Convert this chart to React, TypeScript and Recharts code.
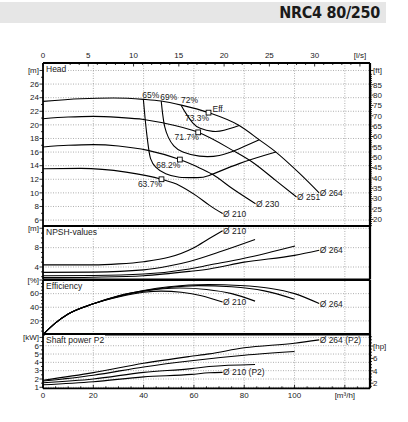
import { LineChart, Line, XAxis, YAxis, ReferenceLine } from "recharts";

// Flow in m³/h
const HEAD_264 = [[0, 23.45], [15, 23.85], [28, 23.95], [40, 23.75], [47, 23.5], [55, 22.9], [65.8, 21.8], [78, 19.9], [86, 17.8], [92.6, 16], [101.9, 12.9], [109.8, 10.0]];
const HEAD_251 = [[0, 20.9], [10, 21.15], [20, 21.25], [30, 21.1], [40, 20.8], [47.6, 20.3], [61.7, 18.9], [75.4, 16.25], [83.3, 14.5], [92.6, 11.8], [100.8, 9.4]];
const HEAD_230 = [[0, 16.75], [10, 17.0], [20, 17.1], [30, 16.9], [41.7, 16.25], [54.4, 14.9], [60.9, 13.9], [67.5, 12.7], [75.4, 10.6], [84.5, 8.4]];
const HEAD_210 = [[0, 13.55], [15, 13.6], [33, 13.05], [47.1, 12.0], [54.2, 11.1], [60.9, 9.6], [66.1, 8.2], [71.4, 6.95]];

// iso-efficiency lines (path order)
const ISO_65 = [[39.9, 23.75], [40.6, 20.9], [41.3, 18.5], [42, 16.5], [42.8, 15.0], [44.8, 13.8], [48.8, 12.8], [54.2, 12.3], [60.9, 12.24], [66.1, 12.57], [78, 14.3], [92.6, 16]];
const ISO_69 = [[47, 23.5], [47.6, 21.5], [48.4, 19.7], [49.8, 18.2], [52, 16.9], [55.6, 16], [62.2, 15.4], [70.1, 15.5], [78, 16.5], [86, 17.8]];
const ISO_72 = [[54.9, 22.9], [56.9, 21.65], [59.5, 20.3], [62.5, 19.5], [67.5, 19.05], [72, 19.2], [78, 19.9]];

const BEP = [[65.8, 21.8], [61.7, 18.9], [54.4, 14.9], [47.1, 12.0]];
const BEP_LABELS = ["73.3%", "71.7%", "68.2%", "63.7%"];

const NPSH_210 = [[0, 4.45], [20, 4.45], [30, 4.65], [40, 5.1], [50, 6.0], [60, 8.0], [66.1, 9.9], [71.4, 11.5]];
const NPSH_230 = [[0, 2.9], [20, 2.95], [40, 3.4], [50, 4.2], [58.2, 5.15], [70, 7.1], [84.3, 9.7]];
const NPSH_251 = [[0, 2.2], [20, 2.25], [40, 2.55], [58.2, 3.6], [66.1, 4.4], [80, 5.8], [100.2, 8.35]];
const NPSH_264 = [[0, 1.8], [20, 1.9], [40, 2.2], [58.2, 3.1], [66.1, 3.6], [80, 5.0], [100, 6.4], [109.8, 7.45]];

const EFF_210 = [[0, 0], [5, 17], [10, 30], [20, 45], [30, 55], [40, 62], [47, 63.7], [55, 62], [63, 57], [71.4, 47.6]];
const EFF_230 = [[0, 0], [5, 17], [10, 30], [20, 45], [30, 56], [40, 63.5], [54.4, 68.2], [65, 66], [75, 60], [84.3, 49]];
const EFF_251 = [[0, 0], [5, 17], [10, 30], [20, 45], [30, 56.5], [40, 64], [50, 69], [61.7, 71.7], [75, 70], [88, 64], [100, 51.8]];
const EFF_264 = [[0, 0], [5, 17], [10, 30], [20, 45], [30, 56.7], [40, 64.5], [50, 70], [65.8, 73.3], [78, 72], [90, 68], [100, 60], [109.8, 45.4]];

const P2_264 = [[0, 1.85], [20, 2.76], [40, 3.89], [58.2, 4.7], [66.1, 5.02], [80, 5.75], [100, 6.3], [109.8, 6.7]];
const P2_251 = [[0, 1.75], [20, 2.45], [40, 3.45], [59, 4.2], [80, 4.85], [100, 5.3]];
const P2_230 = [[0, 1.55], [20, 2.0], [40, 2.8], [59, 3.25], [66, 3.5], [84.3, 3.75]];
const P2_210 = [[0, 1.3], [20, 1.67], [40, 2.25], [59, 2.55], [66, 2.75], [71.4, 2.8]];

const Q_DOMAIN: [number, number] = [0, 130];
const HEAD_DOMAIN: [number, number] = [5.1, 29.1];
const NPSH_DOMAIN: [number, number] = [1.42, 12.47];
const EFF_DOMAIN: [number, number] = [0, 80];
const P2_DOMAIN: [number, number] = [0.88, 7.41];

const FONT = "'Liberation Sans', Arial, sans-serif";
const FS = 8.5;
const TFS = 8;
const INK = "#222";
const M_TO_FT = 3.28084;
const KW_TO_HP = 1.341;

const range = (a: number, b: number, s: number) => {
  const r: number[] = [];
  for (let v = a; v <= b + 1e-9; v += s) r.push(+v.toFixed(4));
  return r;
};
const pts = (arr: number[][]) => arr.map(([q, v]) => ({ q, v }));
const near = (a: number, b: number) => Math.abs(a - b) < 1e-3;

// tick renderers: fmt returns the label of a major tick, null for a minor tick
type Fmt = (v: number) => string | null;

const leftTick = (fmt: Fmt) => (p: any) => {
  const s = fmt(p.payload.value);
  const len = s === null ? 2 : 3.5;
  return (
    <g>
      <line x1={p.x - len} x2={p.x} y1={p.y} y2={p.y} stroke="#000" strokeWidth={0.8} />
      {s ? (
        <text x={p.x - 4} y={p.y} dy="0.35em" textAnchor="end" fontSize={TFS} fontFamily={FONT} fill={INK}>
          {s}
        </text>
      ) : null}
    </g>
  );
};

const rightTick = (fmt: Fmt) => (p: any) => {
  const s = fmt(p.payload.value);
  const len = s === null ? 2 : 3.5;
  return (
    <g>
      <line x1={p.x} x2={p.x + len} y1={p.y} y2={p.y} stroke="#000" strokeWidth={0.8} />
      {s ? (
        <text x={p.x + 3} y={p.y} dy="0.35em" textAnchor="start" fontSize={TFS} fontFamily={FONT} fill={INK}>
          {s}
        </text>
      ) : null}
    </g>
  );
};

const topTick = (fmt: Fmt) => (p: any) => {
  const s = fmt(p.payload.value);
  const len = s === null ? 2 : 3.5;
  return (
    <g>
      <line x1={p.x} x2={p.x} y1={p.y} y2={p.y + len} stroke="#000" strokeWidth={0.8} />
      {s ? (
        <text x={p.x} y={p.y - 4.5} textAnchor="middle" fontSize={TFS} fontFamily={FONT} fill={INK}>
          {s}
        </text>
      ) : null}
    </g>
  );
};

const bottomTick = (fmt: Fmt) => (p: any) => {
  const s = fmt(p.payload.value);
  const len = s === null ? 2 : 3.5;
  return (
    <g>
      <line x1={p.x} x2={p.x} y1={p.y} y2={p.y - len} stroke="#000" strokeWidth={0.8} />
      {s ? (
        <text x={p.x} y={p.y + 10} textAnchor="middle" fontSize={TFS} fontFamily={FONT} fill={INK}>
          {s}
        </text>
      ) : null}
    </g>
  );
};

// axis tick lists
const LS_TICKS = range(0, 35, 1).map((l) => +(l * 3.6).toFixed(4));
const fmtLs: Fmt = (v) => {
  const l = Math.round(v / 3.6);
  if (l === 35) return "[l/s]";
  return l % 5 === 0 ? String(l) : null;
};
const Q_TICKS = range(0, 125, 5);
const fmtQ: Fmt = (v) => {
  if (near(v, 120)) return "[m³/h]";
  return Math.round(v) % 20 === 0 && v <= 100 ? String(Math.round(v)) : null;
};

const HEAD_TICKS = range(6, 28, 1);
const fmtHead: Fmt = (v) => (near(v, 28) ? "[m]" : Math.round(v) % 2 === 0 ? String(Math.round(v)) : null);
const FT_TICKS = [...range(17, 90, 1).map((f) => +(f / M_TO_FT).toFixed(4)), 28.0];
const fmtFt: Fmt = (v) => {
  if (near(v, 28.0)) return "[ft]";
  const f = Math.round(v * M_TO_FT);
  return f % 5 === 0 && f <= 85 ? String(f) : null;
};

const NPSH_TICKS = range(2, 12, 1);
const fmtNpsh: Fmt = (v) => (near(v, 12) ? "[m]" : near(v, 4) || near(v, 8) ? String(Math.round(v)) : null);

const EFF_TICKS = range(5, 80, 5);
const fmtEff: Fmt = (v) => (near(v, 80) ? "[%]" : Math.round(v) % 20 === 0 ? String(Math.round(v)) : null);

const P2_TICKS = range(1, 7, 0.5);
const fmtP2: Fmt = (v) => (near(v, 7) ? "[kW]" : near(v, Math.round(v)) ? String(Math.round(v)) : null);
const HP_TICKS = range(1.5, 9.5, 0.5).map((h) => +(h / KW_TO_HP).toFixed(4));
const fmtHp: Fmt = (v) => {
  const h = Math.round(v * KW_TO_HP * 2) / 2;
  if (h === 8) return "[hp]";
  return h === 2 || h === 4 || h === 6 ? String(h) : null;
};

const GRID_Q = [20, 40, 60, 80, 100, 120];
const HEAD_GRID = range(6, 28, 2);
const NPSH_GRID = [4, 8, 12];
const EFF_GRID = [20, 40, 60, 80];
const P2_GRID = [1, 2, 3, 4, 5, 6, 7];

const gridLines = (ys: number[]) => [
  ...GRID_Q.map((q) => (
    <ReferenceLine key={`gx${q}`} x={q} stroke="#8c8c8c" strokeWidth={0.7} strokeDasharray="1 1.5" />
  )),
  ...ys.map((y) => (
    <ReferenceLine key={`gy${y}`} y={y} stroke="#8c8c8c" strokeWidth={0.7} strokeDasharray="1 1.5" />
  )),
];

const frame = (d: [number, number]) => [
  <ReferenceLine key="f1" x={Q_DOMAIN[0]} stroke="#000" strokeWidth={1.8} />,
  <ReferenceLine key="f2" x={Q_DOMAIN[1]} stroke="#000" strokeWidth={2.2} />,
  <ReferenceLine key="f3" y={d[0]} stroke="#000" strokeWidth={1.8} />,
  <ReferenceLine key="f4" y={d[1]} stroke="#000" strokeWidth={1.8} />,
];

const lx = (p: any) => (p.viewBox && p.viewBox.x != null ? p.viewBox.x : p.x);
const ly = (p: any) => (p.viewBox && p.viewBox.y != null ? p.viewBox.y : p.y);

function endLabel(text: string, n: number) {
  return (p: any) =>
    p.index === n - 1 ? (
      <text x={lx(p) + 0.5} y={ly(p)} dy="0.35em" fontSize={FS} fontFamily={FONT} fill={INK}>
        {text}
      </text>
    ) : (
      <g />
    );
}

function startLabel(text: string, dx: number, dy: number) {
  return (p: any) =>
    p.index === 0 ? (
      <text x={lx(p) + dx} y={ly(p) + dy} fontSize={FS} fontFamily={FONT} fill={INK}>
        {text}
      </text>
    ) : (
      <g />
    );
}

const bepLabel = (p: any) => (
  <g>
    <text x={lx(p) + 0.5} y={ly(p) + 8} textAnchor="end" fontSize={FS} fontFamily={FONT} fill={INK}>
      {BEP_LABELS[p.index]}
    </text>
    {p.index === 0 ? (
      <text x={lx(p) + 4} y={ly(p) - 0.5} fontSize={FS} fontFamily={FONT} fill={INK}>
        Eff.
      </text>
    ) : null}
  </g>
);

const bepDot = (p: any) => (
  <rect key={`bep${p.index}`} x={p.cx - 2.4} y={p.cy - 2.4} width={4.8} height={4.8} fill="#fff" stroke="#000" strokeWidth={0.9} />
);

const curve = (data: number[][], key: string, label?: any, type: any = "monotone") => (
  <Line
    key={key}
    data={pts(data)}
    dataKey="v"
    type={type}
    stroke="#000"
    strokeWidth={1.1}
    dot={false}
    activeDot={false}
    isAnimationActive={false}
    label={label}
  />
);

const panelTitle = (text: string, top: number) => (
  <div
    style={{
      position: "absolute",
      left: 45,
      top,
      height: 10,
      lineHeight: "10px",
      fontSize: FS,
      fontFamily: FONT,
      color: INK,
      background: "#fff",
      padding: "0 1px",
    }}
  >
    {text}
  </div>
);

const MARGIN_R = { top: 0, right: 8, bottom: 0, left: 13 };
const MARGIN_NR = { top: 0, right: 38, bottom: 0, left: 13 };

export default function App() {
  return (
    <div style={{ position: "absolute", left: 0, top: 0, width: 408, height: 422, background: "#fff", overflow: "hidden" }}>
      <style>{".recharts-surface{overflow:visible}.recharts-wrapper{overflow:visible}"}</style>
      <div style={{ position: "absolute", left: 0, top: 2, width: 386, height: 21, background: "#e6e6e6" }} />
      <div
        style={{
          position: "absolute",
          right: 28,
          top: 3,
          height: 20,
          lineHeight: "20px",
          fontSize: 16,
          fontWeight: 700,
          fontFamily: "'Liberation Sans Narrow', 'DejaVu Sans Condensed', 'Liberation Sans', sans-serif",
          fontStretch: "condensed",
          color: "#1a1a1a",
          letterSpacing: -0.3,
        }}
      >
        NRC4 80/250
      </div>

      {/* Head */}
      <div style={{ position: "absolute", left: 0, top: 42.5 }}>
        <LineChart width={408} height={183.2} margin={MARGIN_R}>
          <XAxis
            type="number"
            dataKey="q"
            orientation="top"
            domain={Q_DOMAIN}
            allowDataOverflow
            ticks={LS_TICKS}
            interval={0}
            height={20}
            axisLine={false}
            tickLine={false}
            tickSize={0}
            tickMargin={0}
            tick={topTick(fmtLs)}
          />
          <YAxis type="number" domain={HEAD_DOMAIN} allowDataOverflow ticks={HEAD_TICKS} interval={0} width={30} axisLine={false} tickLine={false} tickSize={0} tickMargin={0} tick={leftTick(fmtHead)} />
          <YAxis yAxisId="r" orientation="right" type="number" domain={HEAD_DOMAIN} allowDataOverflow ticks={FT_TICKS} interval={0} width={30} axisLine={false} tickLine={false} tickSize={0} tickMargin={0} tick={rightTick(fmtFt)} />
          {gridLines(HEAD_GRID)}
          {curve(HEAD_264, "h264", endLabel("Ø 264", HEAD_264.length))}
          {curve(HEAD_251, "h251", endLabel("Ø 251", HEAD_251.length))}
          {curve(HEAD_230, "h230", endLabel("Ø 230", HEAD_230.length))}
          {curve(HEAD_210, "h210", endLabel("Ø 210", HEAD_210.length))}
          {curve(ISO_65, "i65", startLabel("65%", -1, -1.5), "natural")}
          {curve(ISO_69, "i69", startLabel("69%", -1, -1.5), "natural")}
          {curve(ISO_72, "i72", startLabel("72%", 0, -2), "natural")}
          <Line
            data={pts(BEP)}
            dataKey="v"
            stroke="none"
            strokeWidth={0}
            dot={bepDot}
            activeDot={false}
            isAnimationActive={false}
            label={bepLabel}
          />
          {frame(HEAD_DOMAIN)}
        </LineChart>
      </div>

      {/* NPSH */}
      <div style={{ position: "absolute", left: 0, top: 226 }}>
        <LineChart width={408} height={53.5} margin={MARGIN_NR}>
          <XAxis type="number" dataKey="q" domain={Q_DOMAIN} allowDataOverflow hide />
          <YAxis type="number" domain={NPSH_DOMAIN} allowDataOverflow ticks={NPSH_TICKS} interval={0} width={30} axisLine={false} tickLine={false} tickSize={0} tickMargin={0} tick={leftTick(fmtNpsh)} />
          {gridLines(NPSH_GRID)}
          {curve(NPSH_210, "n210", endLabel("Ø 210", NPSH_210.length))}
          {curve(NPSH_230, "n230")}
          {curve(NPSH_251, "n251")}
          {curve(NPSH_264, "n264", endLabel("Ø 264", NPSH_264.length))}
          {frame(NPSH_DOMAIN)}
        </LineChart>
      </div>

      {/* Efficiency */}
      <div style={{ position: "absolute", left: 0, top: 279.5 }}>
        <LineChart width={408} height={54.5} margin={MARGIN_NR}>
          <XAxis type="number" dataKey="q" domain={Q_DOMAIN} allowDataOverflow hide />
          <YAxis type="number" domain={EFF_DOMAIN} allowDataOverflow ticks={EFF_TICKS} interval={0} width={30} axisLine={false} tickLine={false} tickSize={0} tickMargin={0} tick={leftTick(fmtEff)} />
          {gridLines(EFF_GRID)}
          {curve(EFF_210, "e210", endLabel("Ø 210", EFF_210.length))}
          {curve(EFF_230, "e230")}
          {curve(EFF_251, "e251")}
          {curve(EFF_264, "e264", endLabel("Ø 264", EFF_264.length))}
          {frame(EFF_DOMAIN)}
        </LineChart>
      </div>

      {/* Shaft power */}
      <div style={{ position: "absolute", left: 0, top: 334 }}>
        <LineChart width={408} height={74.3} margin={MARGIN_R}>
          <XAxis
            type="number"
            dataKey="q"
            orientation="bottom"
            domain={Q_DOMAIN}
            allowDataOverflow
            ticks={Q_TICKS}
            interval={0}
            height={20}
            axisLine={false}
            tickLine={false}
            tickSize={0}
            tickMargin={0}
            tick={bottomTick(fmtQ)}
          />
          <YAxis type="number" domain={P2_DOMAIN} allowDataOverflow ticks={P2_TICKS} interval={0} width={30} axisLine={false} tickLine={false} tickSize={0} tickMargin={0} tick={leftTick(fmtP2)} />
          <YAxis yAxisId="r" orientation="right" type="number" domain={P2_DOMAIN} allowDataOverflow ticks={HP_TICKS} interval={0} width={30} axisLine={false} tickLine={false} tickSize={0} tickMargin={0} tick={rightTick(fmtHp)} />
          {gridLines(P2_GRID)}
          {curve(P2_264, "p264", endLabel("Ø 264 (P2)", P2_264.length))}
          {curve(P2_251, "p251")}
          {curve(P2_230, "p230")}
          {curve(P2_210, "p210", endLabel("Ø 210 (P2)", P2_210.length))}
          {frame(P2_DOMAIN)}
        </LineChart>
      </div>

      {panelTitle("Head", 64)}
      {panelTitle("NPSH-values", 226.5)}
      {panelTitle("Efficiency", 281)}
      {panelTitle("Shaft power P2", 334.5)}
    </div>
  );
}
